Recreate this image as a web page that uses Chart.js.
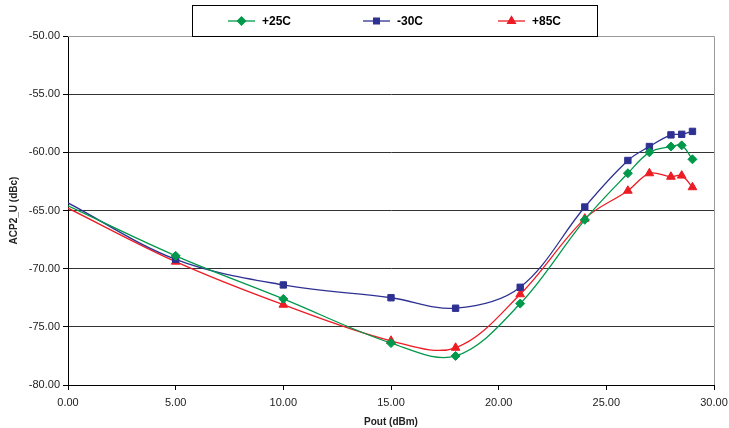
<!DOCTYPE html>
<html>
<head>
<meta charset="utf-8">
<script src="https://cdn.jsdelivr.net/npm/chart.js@4"></script>
<style>
  html, body { margin: 0; padding: 0; background: #fff; }
  #wrap { position: relative; width: 729px; height: 428px; }
</style>
</head>
<body>
<div id="wrap"><canvas id="acpChart" width="729" height="428"></canvas></div>
<script>
// Pout (dBm) sample points
const poutDbm = [0, 5, 10, 15, 18, 21, 24, 26, 27, 28, 28.5, 29];
// ACP2_U (dBc) per temperature
const acp25 = [-64.6, -68.9, -72.6, -76.4, -77.5, -73.0, -65.8, -61.8, -60.0, -59.5, -59.4, -60.6];
const acpM30 = [-64.35, -69.2, -71.4, -72.5, -73.4, -71.6, -64.7, -60.7, -59.5, -58.5, -58.45, -58.2];
const acp85 = [-64.8, -69.4, -73.1, -76.2, -76.8, -72.2, -65.7, -63.3, -61.8, -62.1, -62.0, -63.0];
const seriesLabels = ['+25C', '-30C', '+85C'];

const lineColor = ['#00984A', '#2E3192', '#ED1C24'];
const markerStyle = ['rectRot', 'rect', 'triangle'];
const markerSize = [4.5, 4.5, 5];

function toPoints(ys){
    return poutDbm.map((x, i) => ({x: x, y: ys[i]}));
}

const allSeries = [acp25, acpM30, acp85];
let datasets = [];
for(let i = 0; i < allSeries.length; i++){
    datasets.push({
        label: seriesLabels[i],
        data: toPoints(allSeries[i]),
        borderColor: lineColor[i],
        backgroundColor: lineColor[i],
        borderWidth: 1.3,
        tension: 0.35,
        pointStyle: markerStyle[i],
        // no marker at the 0 dBm start of each curve
        pointRadius: poutDbm.map(x => x === 0 ? 0 : markerSize[i]),
        pointBorderWidth: 1
    });
}

// legend box drawn on the canvas, overlapping the top of the plot
const legendBox = {
    id: 'legendBox',
    afterDraw(chart){
        const c = chart.ctx;
        c.save();
        c.fillStyle = '#fff';
        c.fillRect(192, 5, 405, 31);
        c.strokeStyle = '#000';
        c.lineWidth = 1;
        c.strokeRect(192.5, 5.5, 405, 31);
        const itemX = [228, 363, 498];
        const y = 21;
        c.font = 'bold 12px "Liberation Sans", Arial, sans-serif';
        c.textBaseline = 'middle';
        for(let i = 0; i < 3; i++){
            c.strokeStyle = lineColor[i];
            c.lineWidth = 1.3;
            c.beginPath();
            c.moveTo(itemX[i], y);
            c.lineTo(itemX[i] + 27, y);
            c.stroke();
            c.fillStyle = lineColor[i];
            Chart.helpers.drawPoint(c, {pointStyle: markerStyle[i], radius: markerSize[i] - 0.5, borderWidth: 1}, itemX[i] + 13.5, y);
            c.fill();
            c.fillStyle = '#000';
            c.fillText(seriesLabels[i], itemX[i] + 34, y + 1);
        }
        c.restore();
    }
};

// gray frame on the top and right of the plot area
const frame = {
    id: 'frame',
    beforeDatasetsDraw(chart){
        const a = chart.chartArea;
        const c = chart.ctx;
        c.save();
        c.strokeStyle = '#9a9a9a';
        c.lineWidth = 1;
        c.beginPath();
        c.moveTo(a.left, a.top + 0.5);
        c.lineTo(a.right + 0.5, a.top + 0.5);
        c.lineTo(a.right + 0.5, a.bottom);
        c.stroke();
        c.restore();
    }
};

const tickFont = {family: '"Liberation Sans", Arial, sans-serif', size: 11};
const titleFont = {family: '"Liberation Sans", Arial, sans-serif', size: 10, weight: 'bold'};

var ctx = document.getElementById('acpChart').getContext('2d');
var myChart = new Chart(ctx, {
    type: 'line',
    data: {datasets: datasets},
    plugins: [frame, legendBox],
    options: {
        responsive: false,
        animation: false,
        layout: {padding: {top: 36, right: 15, left: 0, bottom: 0}},
        plugins: {
            legend: {display: false},
            tooltip: {enabled: false}
        },
        scales: {
            x: {
                type: 'linear',
                min: 0,
                max: 30,
                ticks: {stepSize: 5, color: '#222', font: tickFont, padding: 6, callback: v => v.toFixed(2)},
                grid: {color: 'transparent', tickColor: '#000', tickLength: 5, drawOnChartArea: false},
                border: {color: '#000', width: 1},
                title: {display: true, text: 'Pout (dBm)', color: '#222', font: titleFont, padding: {top: 5, bottom: 0}},
                afterFit: s => { s.height = 43; s.paddingRight = 0; s.paddingLeft = 0; }
            },
            y: {
                min: -80,
                max: -50,
                ticks: {stepSize: 5, color: '#222', font: tickFont, padding: 3, callback: v => v.toFixed(2)},
                grid: {
                    color: c => c.tick.value === -50 ? 'transparent' : '#333',
                    tickColor: '#000',
                    tickLength: 5
                },
                border: {color: '#000', width: 1},
                title: {display: true, text: 'ACP2_U (dBc)', color: '#222', font: titleFont, padding: {top: 8, bottom: 0}},
                afterFit: s => { s.width = 68; }
            }
        }
    }
});
</script>
</body>
</html>
